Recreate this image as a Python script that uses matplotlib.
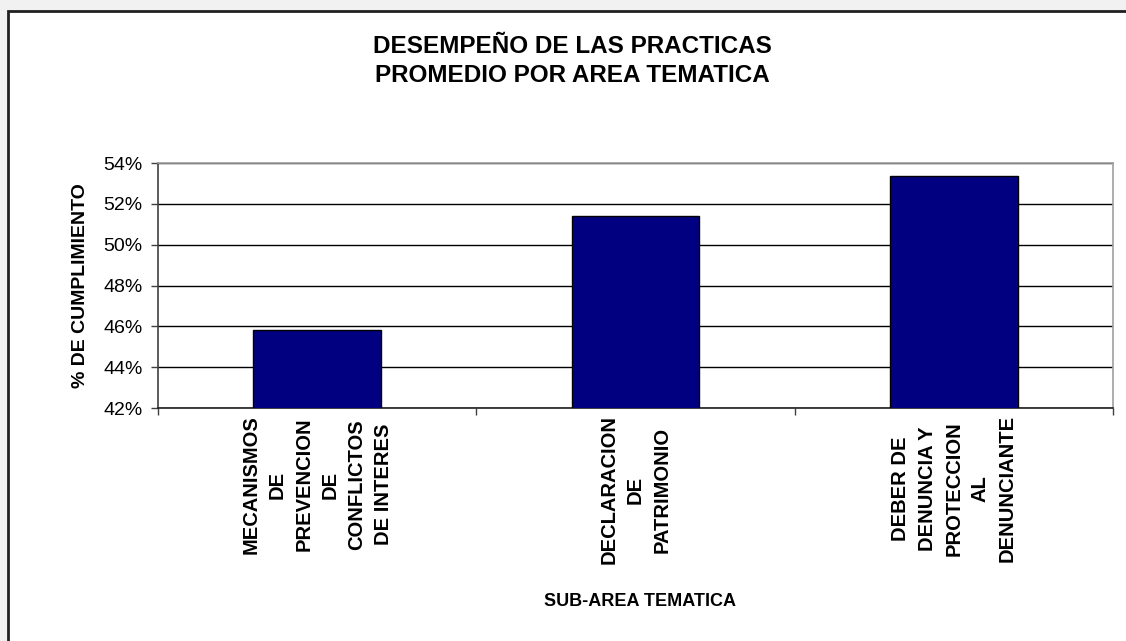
import matplotlib.pyplot as plt
from matplotlib.patches import Rectangle
from matplotlib.ticker import FuncFormatter, FixedLocator

plt.rcParams['font.family'] = ['Liberation Sans', 'DejaVu Sans']

categories = ['MECANISMOS\nDE\nPREVENCION\nDE\nCONFLICTOS\nDE INTERES',
              'DECLARACION\nDE\nPATRIMONIO',
              'DEBER DE\nDENUNCIA Y\nPROTECCION\nAL\nDENUNCIANTE']
values = [45.83, 51.42, 53.37]
yticks = [42, 44, 46, 48, 50, 52, 54]

W, H = 1126, 641
fig = plt.figure(figsize=(W / 100, H / 100), dpi=100)
fig.patch.set_facecolor('#f1f1f1')

# chart frame (white box with dark border), behind the axes
frame = Rectangle((8 / W, -0.05), 1.2, (H - 11) / H + 0.05,
                  transform=fig.transFigure, facecolor='white',
                  edgecolor='#202020', linewidth=2, zorder=-10)
fig.patches.append(frame)

ax = fig.add_axes([158 / W, (H - 408) / H, (1113 - 158) / W, 245 / H])
ax.set_facecolor('white')

x = range(len(values))
ax.bar(x, values, width=0.4, color='#000080', edgecolor='black', linewidth=1, zorder=3)

ax.set_xlim(-0.5, 2.5)
ax.set_ylim(42, 54)
ax.yaxis.set_major_locator(FixedLocator(yticks))
ax.yaxis.set_major_formatter(FuncFormatter(lambda v, p: f'{v:.0f}%'))
ax.grid(axis='y', color='black', linewidth=1, zorder=1)
ax.tick_params(axis='y', labelsize=14, length=5, width=1, color='#404040', pad=6)

# category boundary ticks on x axis, labels centred
ax.set_xticks([-0.5, 0.5, 1.5, 2.5])
ax.set_xticklabels([])
ax.tick_params(axis='x', length=5, width=1, color='#404040')
for i, lab in enumerate(categories):
    ax.text(i, 41.65, lab, rotation=90, ha='center', va='top', multialignment='center',
            fontsize=14.5, fontweight='bold', linespacing=1.5)

for side in ['top', 'right']:
    ax.spines[side].set_color('#a0a0a0')
ax.spines['left'].set_color('#404040')
ax.spines['bottom'].set_color('#202020')
for s in ax.spines.values():
    s.set_linewidth(1.2)

ax.set_ylabel('% DE CUMPLIMIENTO', fontsize=14, fontweight='bold', labelpad=10)
fig.text(640 / W, 1 - 601 / H, 'SUB-AREA TEMATICA', ha='center', va='center',
         fontsize=13, fontweight='bold')
fig.text(572 / W, 1 - 61 / H, 'DESEMPEÑO DE LAS PRACTICAS\nPROMEDIO POR AREA TEMATICA',
         ha='center', va='center', fontsize=17.5, fontweight='bold', linespacing=1.35)

fig.savefig('out.png', dpi=100)
